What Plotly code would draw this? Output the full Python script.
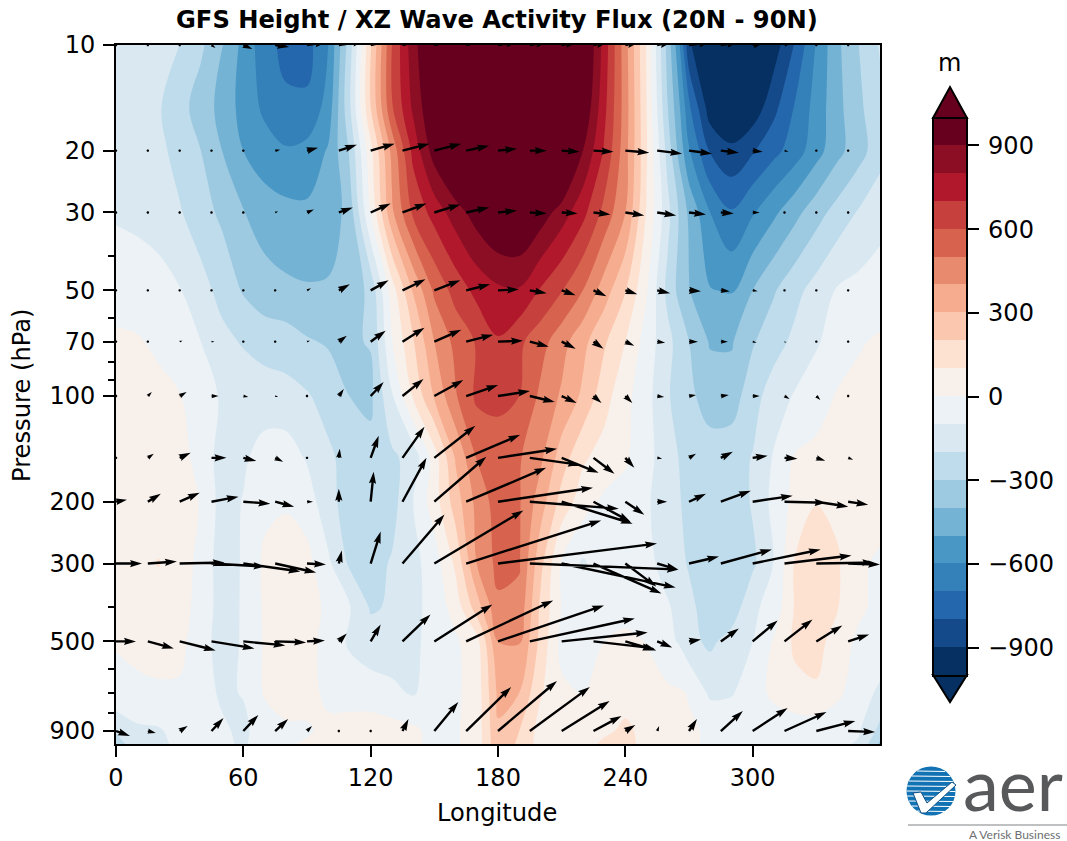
import math
import plotly.graph_objects as go

# ---------- data ----------
longitudes = [0,10,20,30,40,50,60,70,80,90,100,110,120,130,140,150,160,170,180,190,200,210,220,230,240,250,260,265,270,280,290,300,310,320,330,340,350,360]
pressures = [10, 15, 20, 30, 50, 70, 100, 150, 200, 300, 400, 500, 700, 900, 980]

z_10 = [-190,-190,-190,-200,-280,-395,-530,-660,-730,-740,-600,-250,190,600,860,1050,1200,1350,1450,1500,1450,1300,1050,760,440,90,-340,-560,-880,-1050,-1100,-1030,-950,-790,-590,-420,-300,-190]
z_15 = [-110,-130,-190,-260,-350,-430,-540,-620,-680,-680,-560,-220,200,590,820,1010,1150,1250,1350,1400,1350,1200,1000,730,450,100,-300,-470,-680,-960,-1000,-970,-830,-690,-560,-430,-320,-230]
z_20 = [-130,-140,-170,-240,-300,-400,-500,-560,-590,-570,-490,-290,70,430,730,950,1100,1200,1280,1300,1250,1150,900,690,440,110,-240,-420,-590,-810,-880,-810,-730,-650,-540,-430,-340,-240]
z_30 = [-110,-120,-140,-190,-260,-320,-395,-445,-470,-480,-470,-360,5,380,620,740,850,950,1030,1040,960,850,730,570,400,90,-170,-300,-420,-600,-690,-610,-520,-430,-340,-260,-190,-130]
z_50 = [-50,-55,-65,-95,-160,-235,-310,-360,-380,-390,-385,-370,-270,50,310,520,640,730,780,790,690,605,500,350,205,10,-230,-320,-395,-495,-510,-400,-310,-230,-160,-90,-70,-60]
z_70 = [20,10,-20,-60,-100,-170,-210,-240,-250,-290,-310,-310,-295,-5,190,400,530,610,690,620,540,440,330,215,100,-45,-170,-235,-300,-410,-410,-310,-240,-175,-110,-60,-10,15]
z_100 = [50,45,30,5,-60,-110,-130,-150,-165,-190,-240,-300,-320,-110,110,310,490,620,630,600,480,385,280,140,30,-65,-190,-235,-280,-340,-350,-240,-150,-90,-50,10,30,50]
z_150 = [50,50,45,40,-40,-140,-115,-60,-50,-110,-180,-240,-270,-220,-160,50,310,505,540,510,420,250,115,60,15,-65,-160,-200,-230,-260,-240,-195,-90,10,30,40,40,50]
z_200 = [60,55,50,40,-5,-140,-95,-25,-15,-45,-170,-240,-270,-240,-100,50,250,430,550,510,350,160,50,-20,-40,-85,-160,-190,-230,-260,-260,-190,-70,30,95,80,60,55]
z_300 = [50,60,105,50,-30,-150,-90,20,60,30,-80,-215,-240,-190,-130,-50,120,400,530,510,230,-10,-115,-40,-30,-70,-140,-170,-210,-250,-250,-220,-95,110,170,110,20,-20]
z_400 = [40,50,50,40,-35,-145,-90,15,70,40,-20,-90,-210,-190,-130,-60,40,250,480,470,180,-5,-30,-40,-50,-70,-90,-125,-170,-260,-260,-120,-60,110,170,105,20,-30]
z_500 = [5,25,40,30,-60,-140,-90,10,60,30,-30,-115,-160,-150,-120,-65,-15,60,400,410,170,-30,-50,0,30,-5,-80,-105,-170,-220,-160,-100,10,120,140,50,-20,-30]
z_700 = [-20,-20,-15,-15,-60,-115,-95,10,50,30,-20,-40,-50,-80,-110,-50,-15,40,320,300,110,20,-5,40,60,50,20,10,-5,-120,-110,-40,20,70,85,20,-50,-120]
z_900 = [-190,-120,-110,-70,-50,-85,-120,-50,-20,-10,20,40,50,40,20,-30,-10,40,290,200,60,30,40,80,120,70,30,20,10,-10,-20,-40,-50,-60,-60,-70,-90,-230]
z_980 = [-240,-150,-120,-80,-60,-80,-115,-40,-10,10,30,50,60,50,20,-30,-10,40,280,180,60,30,60,120,150,50,30,20,10,-10,-20,-40,-50,-60,-70,-80,-110,-320]
heights = [z_10, z_15, z_20, z_30, z_50, z_70, z_100, z_150, z_200, z_300, z_400, z_500, z_700, z_900, z_980]

flux_lons = [i * 15 for i in range(24)]
flux_levels = [10, 20, 30, 50, 70, 100, 150, 200, 300, 500, 900]

u_10 = [0,0,0,4,9,14,20,26,28,30,30,28,20,18,16,15,14,15,22,18,12,6,0,0]
v_10 = [0,0,0,3,4,2,-3,-4,-6,-7,-7,-6,-3,-3,-3,-3,-3,-3,-3,-3,-3,-2,0,0]
u_20 = [0,0,0,0,0,5,11,18,24,27,27,23,19,17,18,20,24,25,23,18,10,4,0,0]
v_20 = [0,0,0,0,0,-1,-3,-6,-7,-7,-7,-5,-2,0,1,1,2,3,3,2,1,1,0,0]
u_30 = [0,0,0,0,0,3,7,14,20,24,26,23,19,17,16,17,19,19,17,13,7,0,0,0]
v_30 = [0,0,0,0,0,-1,-3,-5,-9,-9,-8,-5,-2,1,1,2,3,3,2,1,0,0,0,0]
u_50 = [0,1,1,0,0,0,4,11,18,23,26,24,21,17,14,13,12,13,12,9,5,0,0,0]
v_50 = [0,0,0,0,0,0,-2,-6,-10,-11,-10,-6,-1,3,5,6,4,3,1,1,1,0,0,0]
u_70 = [0,1.5,3,3,0,0,3,8,15,22,27,27,25,19,14,10,9,8,9,7,4,2,0,0]
v_70 = [0,-1,-1,0,0,0,-1,-6,-11,-14,-12,-7,-1,5,7,7,4,1,0,0,1,1,0,0]
u_100 = [0,4,7,7,5,3,2,5,13,21,29,32,32,25,15,8,7,7,7,8,7,5,4,0]
v_100 = [0,-4,-4,0,1,1,0,-7,-14,-17,-16,-11,-5,6,7,7,7,1,-1,-1,0,3,4,0]
u_150 = [1,6,11,15,13,8,1,1,8,22,41,54,59,50,37,21,9,5,7,12,15,13,9,5]
v_150 = [0,-4,-5,0,3,4,0,-9,-22,-31,-32,-23,-9,7,15,16,10,1,-4,-6,-2,1,3,2]
u_200 = [11,13,20,27,27,19,6,0,3,24,52,80,95,89,71,37,19,10,17,30,40,42,32,20]
v_200 = [-2,-8,-9,-5,2,5,0,-13,-30,-44,-45,-34,-14,7,22,20,13,0,-8,-11,-6,1,5,3]
u_300 = [26,29,45,54,57,41,19,3,10,42,89,135,159,149,114,68,31,21,30,51,68,67,58,32]
v_300 = [0,-2,-1,3,8,9,1,-13,-32,-49,-53,-43,-20,6,24,30,23,6,-7,-14,-14,-8,-1,1]
u_500 = [20,26,36,43,42,31,18,8,10,28,58,87,106,105,86,61,31,15,12,18,25,28,26,21]
v_500 = [0,7,9,7,4,1,-1,-8,-17,-27,-37,-41,-36,-23,-9,7,9,6,-2,-13,-21,-22,-16,-7]
u_900 = [14,8,8,12,15,13,5,0,2,6,24,45,59,60,48,28,10,2,8,22,35,42,39,27]
v_900 = [5,2,-5,-13,-16,-12,-5,0,0.5,-12,-29,-44,-50,-44,-30,-15,-6,-5,-12,-20,-23,-19,-10,1]
flux_u = [u_10, u_20, u_30, u_50, u_70, u_100, u_150, u_200, u_300, u_500, u_900]
flux_v = [v_10, v_20, v_30, v_50, v_70, v_100, v_150, v_200, v_300, v_500, v_900]

band_colors = ["#053061","#14498a","#2467ad","#3480b9","#4997c5","#75b3d5","#9dcae1","#bfdcec","#d9e8f1","#ecf2f5",
               "#f8f0eb","#fde2d2","#fbc8af","#f6ac8e","#e88a6d","#d7634f","#c6413e","#b1182b","#8b0e25","#67001f"]
cbar_ticks = [-900, -600, -300, 0, 300, 600, 900]
cbar_labels = ["\u2009\u2212900", "\u2009\u2212600", "\u2009\u2212300", "\u20090", "\u2009300", "\u2009600", "\u2009900"]
lon_ticks = [0, 60, 120, 180, 240, 300]
p_ticks = [10, 20, 30, 50, 70, 100, 200, 300, 500, 900]
p_minor = [40, 60, 80, 90, 400, 600, 700, 800]

# ---------- layout geometry ----------
W, H = 1067, 841
L, R, T, B = 116, 880, 45, 744
P_BOTTOM = 980
FONT = "DejaVu Sans"
TICK = 24
px_per_deg = (R - L) / 360
px_per_dec = (B - T) / (math.log10(P_BOTTOM) - 1)


def pap_x(x):
    return (x - L) / (R - L)


def pap_y(y):
    return (B - y) / (B - T)


# ---------- quiver arrows (matplotlib-like geometry, in screen pixels) ----------
SHAFT = 2.4


def arrow_outline(dx, dy):
    n = math.hypot(dx, dy)
    if n < SHAFT * 0.9:
        return [(0.9 * SHAFT / 1.6 * math.cos(a * math.pi / 3), 0.9 * SHAFT / 1.6 * math.sin(a * math.pi / 3)) for a in range(6)]
    hl, hal, hw = 5 * SHAFT, 4.5 * SHAFT, 3 * SHAFT
    s = 1.0
    length = n
    if n < hl:
        s = n / hl
        length = hl
    top = [(0, SHAFT / 2), (length - hal, SHAFT / 2), (length - hl, hw / 2), (length, 0)]
    bot = [(x, -y) for x, y in reversed(top[:-1])]
    c, d = dx / n, dy / n
    return [(s * (x * c - y * d), s * (x * d + y * c)) for x, y in top + bot]


ax, ay = [], []
for lev, row_u, row_v in zip(flux_levels, flux_u, flux_v):
    for lon, du, dv in zip(flux_lons, row_u, row_v):
        for ox, oy in arrow_outline(du, dv):
            ax.append(lon + ox / px_per_deg)
            ay.append(lev * 10 ** (oy / px_per_dec))
        ax.append(None)
        ay.append(None)

fig = go.Figure()
n_col = len(band_colors)
fig.add_trace(go.Contour(
    x=longitudes, y=pressures, z=heights,
    autocontour=False,
    contours=dict(start=-900, end=900, size=100, coloring="fill", showlines=False),
    line=dict(width=0, smoothing=1.0),
    colorscale=[[i / (n_col - 1), c] for i, c in enumerate(band_colors)],
    zmin=-1000, zmax=1000,
    hoverinfo="skip",
    colorbar=dict(
        x=pap_x(933), xref="paper", xanchor="left", xpad=0,
        y=pap_y(117.5), yref="paper", yanchor="top", ypad=0,
        len=557.5, lenmode="pixels", thickness=34, thicknessmode="pixels",
        outlinewidth=2, outlinecolor="black", bordercolor="rgba(0,0,0,0)", borderwidth=0,
        tickmode="array", tickvals=cbar_ticks, ticktext=cbar_labels, ticks="outside", ticklen=11, tickwidth=2, tickcolor="black",
        ticklabelposition="outside", tickfont=dict(family=FONT, size=TICK, color="black"),
    ),
))
fig.add_trace(go.Scatter(x=ax, y=ay, mode="lines", fill="toself", fillcolor="black",
                         line=dict(width=0, color="black"), hoverinfo="skip", showlegend=False))

shapes = []
# colorbar extension triangles
shapes.append(dict(type="path", xref="paper", yref="paper", layer="above",
                   path=f"M {pap_x(933)} {pap_y(118)} L {pap_x(950)} {pap_y(87)} L {pap_x(967)} {pap_y(118)} Z",
                   fillcolor=band_colors[-1], line=dict(color="black", width=2)))
shapes.append(dict(type="path", xref="paper", yref="paper", layer="above",
                   path=f"M {pap_x(933)} {pap_y(675)} L {pap_x(950)} {pap_y(702)} L {pap_x(967)} {pap_y(675)} Z",
                   fillcolor=band_colors[0], line=dict(color="black", width=2)))
# logo
GX, GY, GR = 931, 791, 24.5
shapes.append(dict(type="circle", xref="paper", yref="paper", x0=pap_x(GX - GR), x1=pap_x(GX + GR),
                   y0=pap_y(GY + GR), y1=pap_y(GY - GR), fillcolor="#1273b4", line=dict(width=0)))
for off in [-20, -15, -10, -5, 0, 5, 10, 15, 20]:
    half = math.sqrt(GR ** 2 - off ** 2)
    shapes.append(dict(type="line", xref="paper", yref="paper", x0=pap_x(GX - half), x1=pap_x(GX + half),
                       y0=pap_y(GY + off), y1=pap_y(GY + off + 0.5), line=dict(color="white", width=1.2)))
shapes.append(dict(type="path", xref="paper", yref="paper",
                   path=(f"M {pap_x(913)} {pap_y(793)} L {pap_x(921)} {pap_y(792)} L {pap_x(927)} {pap_y(803)} "
                         f"L {pap_x(952)} {pap_y(782)} L {pap_x(956)} {pap_y(785)} L {pap_x(926)} {pap_y(813)} L {pap_x(921)} {pap_y(813)} Z"),
                   fillcolor="white", line=dict(width=1, color="#0d4f86")))
shapes.append(dict(type="line", xref="paper", yref="paper", x0=pap_x(908), x1=pap_x(1067),
                   y0=pap_y(825), y1=pap_y(825), line=dict(color="#a9abae", width=1.5)))


def note(text, x, y, size, color="black", bold=False, angle=0, family=FONT, xanchor="center"):
    return dict(text=f"<b>{text}</b>" if bold else text, x=pap_x(x), y=pap_y(y), xref="paper", yref="paper",
                xanchor=xanchor, yanchor="middle", showarrow=False, textangle=angle,
                font=dict(family=family, size=size, color=color))


annotations = [
    note("GFS Height / XZ Wave Activity Flux (20N - 90N)", 497, 20, 24.2, bold=True),
    note("Longitude", 497, 813, 24.2),
    note("Pressure (hPa)", 22, 395, 24.2, angle=-90),
    note("m", 950, 63, TICK),
    note("aer", 1013, 783, 72, color="#58595b", family="Lato"),
    note("A Verisk Business", 1014, 834, 12, color="#6d6e71", family="Lato"),
]

fig.update_layout(
    width=W, height=H, paper_bgcolor="white", plot_bgcolor="white",
    margin=dict(l=L, r=W - R, t=T, b=H - B, autoexpand=False),
    showlegend=False, shapes=shapes, annotations=annotations,
    font=dict(family=FONT, color="black"),
    xaxis=dict(range=[0, 360], tickmode="array", tickvals=lon_ticks, ticks="outside", ticklen=11, tickwidth=2,
               tickcolor="black", showline=True, linewidth=2, linecolor="black", mirror=True, showgrid=False,
               zeroline=False, tickfont=dict(family=FONT, size=TICK, color="black"), ticklabelstandoff=0),
    yaxis=dict(type="log", range=[math.log10(P_BOTTOM), 1], tickmode="array", tickvals=p_ticks,
               ticktext=[str(p) for p in p_ticks], ticks="outside", ticklen=11, tickwidth=2, tickcolor="black",
               minor=dict(tickmode="array", tickvals=p_minor, ticks="outside", ticklen=6, tickwidth=2, tickcolor="black", showgrid=False),
               showline=True, linewidth=2, linecolor="black", mirror=True, showgrid=False, zeroline=False,
               tickfont=dict(family=FONT, size=TICK, color="black"), ticklabelstandoff=3),
)

fig.write_html("out.html", post_script="document.body.style.margin='0';", config={"displayModeBar": False})
